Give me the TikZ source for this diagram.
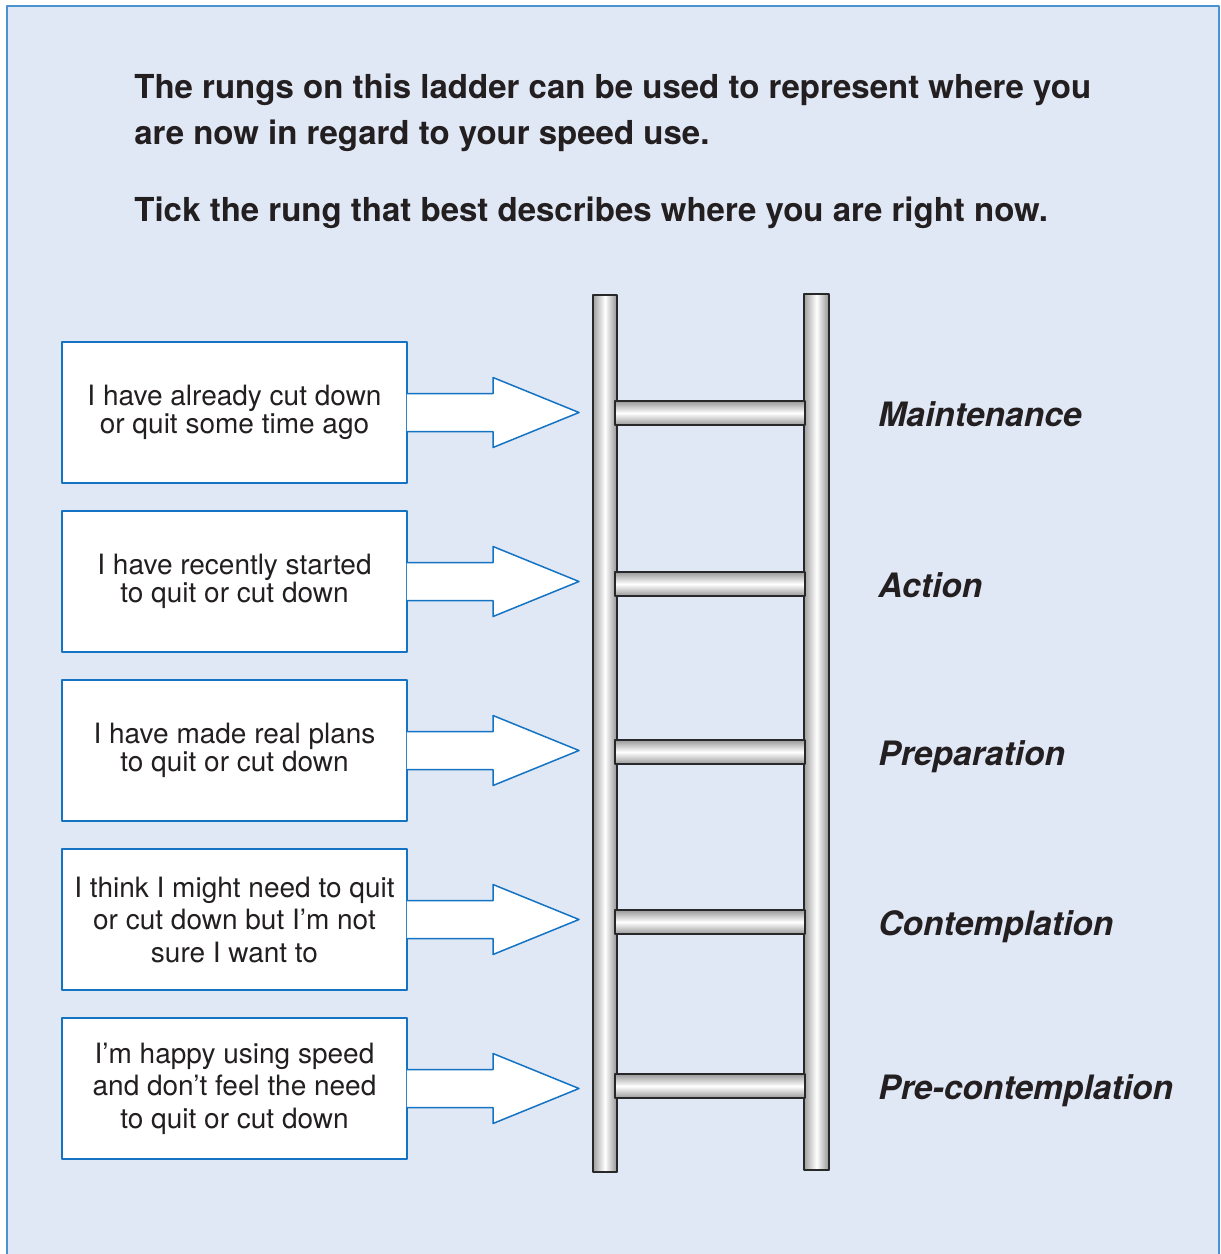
\documentclass[tikz,border=0pt]{standalone}
\usepackage{fontspec}
\setmainfont{TeX Gyre Heros}
\usetikzlibrary{calc}
\definecolor{panel}{RGB}{224,231,245}
\definecolor{frameblue}{RGB}{74,146,208}
\definecolor{boxblue}{RGB}{20,115,195}
\definecolor{ink}{RGB}{35,31,32}
\definecolor{raildark}{RGB}{40,40,40}
\begin{document}
\begin{tikzpicture}[x=0.5pt, y=-0.5pt, line join=round, text=ink,
  stagebox/.style={draw=boxblue, fill=white, line width=0.75pt, minimum width=172.5pt, minimum height=70.5pt, inner sep=0pt, align=center},
  blockarrow/.style={draw=boxblue, fill=white, line width=0.75pt},
  rail/.style={draw=raildark, line width=1pt, left color=gray!75, right color=gray!85, middle color=white},
  rung/.style={draw=raildark, line width=1pt, top color=gray!80, bottom color=gray!80, middle color=white},
  heading/.style={anchor=base west, inner sep=0pt, font=\fontsize{16.5}{23}\selectfont\bfseries},
  stagelabel/.style={anchor=base west, inner sep=0pt, font=\fontsize{16.8}{20}\selectfont\bfseries\itshape}]
  \useasboundingbox (0,0) rectangle (1221,1254);
  \draw[draw=frameblue, fill=panel, line width=1pt] (7,6) rectangle (1219,1280);
  \node[heading] (head1) at (134,98) {The rungs on this ladder can be used to represent where you};
  \node[heading] (head2) at (134,144) {are now in regard to your speed use.};
  \node[heading] (head3) at (134,221) {Tick the rung that best describes where you are right now.};
  \draw[rail] (593,295) rectangle (617,1172);
  \draw[rail] (804,294) rectangle (829,1170);
  \foreach \b/\r/\lsk/\txt/\lbl [count=\i] in {
    412.5/413/14/{I have already cut down\\or quit some time ago}/Maintenance,
    581.5/584/14/{I have recently started\\to quit or cut down}/Action,
    750.5/752/14/{I have made real plans\\to quit or cut down}/Preparation,
    919.5/922/16.25/{I think I might need to quit\\or cut down but I’m not\\sure I want to}/Contemplation,
    1088.5/1086/16.25/{I’m happy using speed\\and don’t feel the need\\to quit or cut down}/Pre-contemplation}
  {
    \node[stagebox, font=\fontsize{14}{\lsk}\selectfont] (b\i) at (234.5,\b) {\txt};
    \coordinate (tip\i) at (579,\b);
    \path[blockarrow] ($(b\i.east)+(-1,-19)$) -| ($(tip\i)+(-86,-35)$) -- (tip\i) -- ($(tip\i)+(-86,35)$) |- ($(b\i.east)+(-1,19)$);
    \draw[rung] (615,\r-12) rectangle (805,\r+12);
    \node[stagelabel] (l\i) at (878,\r+13) {\lbl};
  }
\end{tikzpicture}
\end{document}
